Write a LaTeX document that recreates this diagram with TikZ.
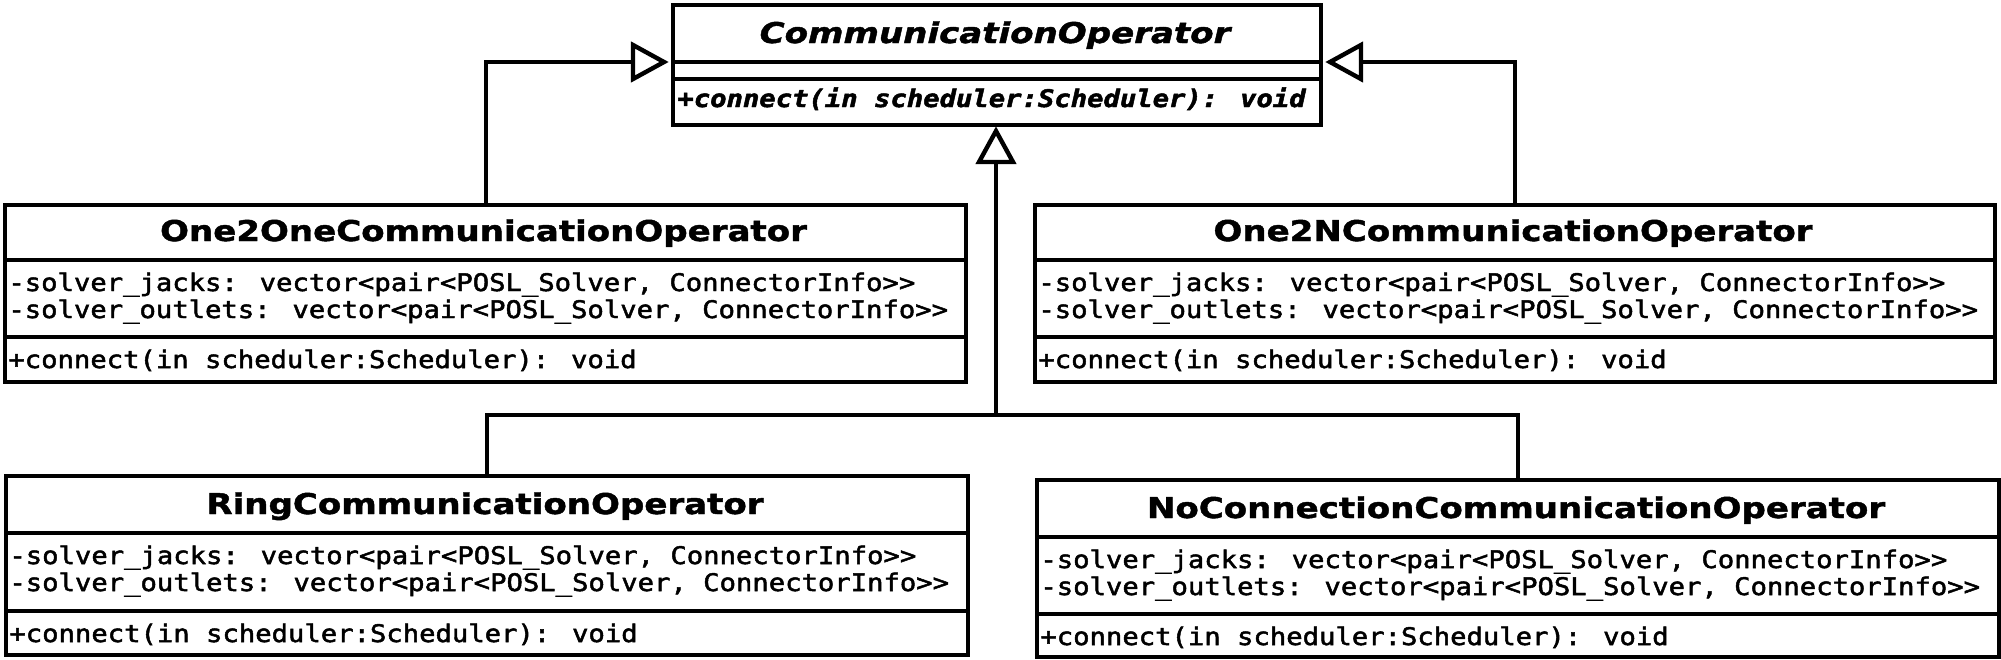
\documentclass[tikz,border=0pt]{standalone}
\usepackage{fontspec}
\newfontfamily\titlef[FakeStretch=1.19,FakeBold=1.5]{DejaVu Sans}
\newfontfamily\monof[FakeStretch=1.125,FakeBold=2]{DejaVu Sans Mono}
\begin{document}
\begin{tikzpicture}[x=0.5pt,y=-0.5pt,
  box/.style={draw, line width=2.2pt, inner sep=0pt, anchor=north west},
  ln/.style={line width=2.2pt},
  tri/.style={line width=2.2pt, fill=white, line join=miter},
  ttl/.style={font=\titlef\bfseries\fontsize{14.3pt}{16pt}\selectfont, anchor=base, inner sep=0pt},
  attr/.style={font=\monof\fontsize{12.1pt}{14pt}\selectfont, anchor=base west, inner sep=0pt},
]
\useasboundingbox (0,0) rectangle (2001,659);
\fill[white] (0,0) rectangle (2001,659);

% class boxes
\node[box, minimum width=324pt, minimum height=60pt] (top) at (671,2.5) {};
\node[box, minimum width=480.5pt, minimum height=88.5pt] (one2one) at (3,203) {};
\node[box, minimum width=480pt, minimum height=88.5pt] (one2n) at (1033,203) {};
\node[box, minimum width=481pt, minimum height=89.5pt] (ring) at (4,474) {};
\node[box, minimum width=481pt, minimum height=88.5pt] (noconn) at (1035,478) {};

% compartment lines
\draw[ln] (671,62) -- (1319,62);
\draw[ln] (671,79) -- (1319,79);
\draw[ln] (3,260) -- (964,260);
\draw[ln] (3,337) -- (964,337);
\draw[ln] (1033,260) -- (1993,260);
\draw[ln] (1033,337) -- (1993,337);
\draw[ln] (4,533) -- (966,533);
\draw[ln] (4,611) -- (966,611);
\draw[ln] (1035,537) -- (1997,537);
\draw[ln] (1035,614) -- (1997,614);

% texts
\node[ttl, font=\titlef\bfseries\itshape\fontsize{14.3pt}{16pt}\selectfont] (topt) at (995,43) {CommunicationOperator};
\node[attr, font=\monof\bfseries\itshape\fontsize{12.1pt}{14pt}\selectfont] (topm) at (677,107) {+connect(in scheduler:Scheduler): void};

\node[ttl] (o1t) at (483.5,241) {One2OneCommunicationOperator};
\node[attr] (o1a) at (8,291) {-solver\_jacks: vector<pair<POSL\_Solver, ConnectorInfo>>};
\node[attr] (o1b) at (8,318) {-solver\_outlets: vector<pair<POSL\_Solver, ConnectorInfo>>};
\node[attr] (o1m) at (8,368) {+connect(in scheduler:Scheduler): void};

\node[ttl] (ont) at (1513,241) {One2NCommunicationOperator};
\node[attr] (ona) at (1038,291) {-solver\_jacks: vector<pair<POSL\_Solver, ConnectorInfo>>};
\node[attr] (onb) at (1038,318) {-solver\_outlets: vector<pair<POSL\_Solver, ConnectorInfo>>};
\node[attr] (onm) at (1038,368) {+connect(in scheduler:Scheduler): void};

\node[ttl] (rt) at (485,514) {RingCommunicationOperator};
\node[attr] (ra) at (9,564) {-solver\_jacks: vector<pair<POSL\_Solver, ConnectorInfo>>};
\node[attr] (rb) at (9,591) {-solver\_outlets: vector<pair<POSL\_Solver, ConnectorInfo>>};
\node[attr] (rm) at (9,642) {+connect(in scheduler:Scheduler): void};

\node[ttl] (nt) at (1516,518) {NoConnectionCommunicationOperator};
\node[attr] (na) at (1040,568) {-solver\_jacks: vector<pair<POSL\_Solver, ConnectorInfo>>};
\node[attr] (nb) at (1040,595) {-solver\_outlets: vector<pair<POSL\_Solver, ConnectorInfo>>};
\node[attr] (nm) at (1040,645) {+connect(in scheduler:Scheduler): void};

% generalisation connectors (line ends at the base of each hollow triangle)
\coordinate (inhL) at (633,62);
\coordinate (inhR) at (1361,62);
\coordinate (inhC) at (996,162);
\coordinate (bus) at (996,415);
\draw[ln] (one2one.north) |- (inhL);
\draw[ln] (one2n.north) |- (inhR);
\draw[ln] (bus) -- (inhC);
\draw[ln] (ring.north) |- (bus) -| (noconn.north);
\draw[tri] (664,62) -- (633,45) -- (633,79) -- cycle;
\draw[tri] (1330,62) -- (1361,45) -- (1361,79) -- cycle;
\draw[tri] (996,131) -- (979,162) -- (1013,162) -- cycle;
\end{tikzpicture}
\end{document}
